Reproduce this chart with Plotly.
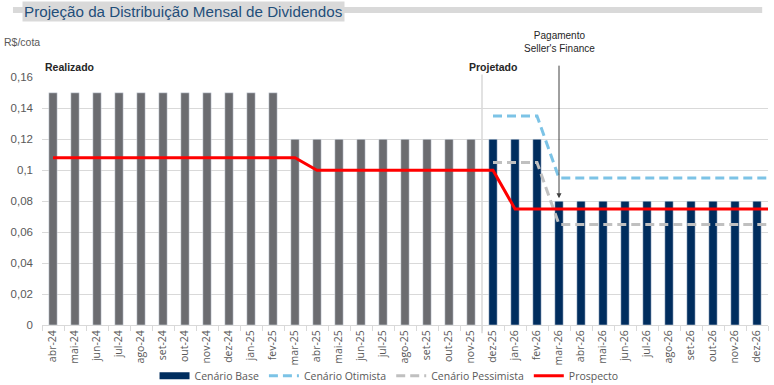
import plotly.graph_objects as go

months = ["abr-24", "mai-24", "jun-24", "jul-24", "ago-24", "set-24", "out-24", "nov-24",
          "dez-24", "jan-25", "fev-25", "mar-25", "abr-25", "mai-25", "jun-25", "jul-25",
          "ago-25", "set-25", "out-25", "nov-25", "dez-25", "jan-26", "fev-26", "mar-26",
          "abr-26", "mai-26", "jun-26", "jul-26", "ago-26", "set-26", "out-26", "nov-26", "dez-26"]

# realizado: abr-24 .. nov-25
realizado = [0.15, 0.15, 0.15, 0.15, 0.15, 0.15, 0.15, 0.15, 0.15, 0.15, 0.15,
             0.12, 0.12, 0.12, 0.12, 0.12, 0.12, 0.12, 0.12, 0.12]
# projetado: dez-25 .. dez-26
cenario_base = [0.12, 0.12, 0.12, 0.08, 0.08, 0.08, 0.08, 0.08, 0.08, 0.08, 0.08, 0.08, 0.08]
cenario_otimista = [0.135, 0.135, 0.135, 0.095, 0.095, 0.095, 0.095, 0.095, 0.095, 0.095, 0.095, 0.095, 0.095]
cenario_pessimista = [0.105, 0.105, 0.105, 0.065, 0.065, 0.065, 0.065, 0.065, 0.065, 0.065, 0.065, 0.065, 0.065]
prospecto = [0.108, 0.108, 0.108, 0.108, 0.108, 0.108, 0.108, 0.108, 0.108, 0.108, 0.108, 0.108,
             0.1, 0.1, 0.1, 0.1, 0.1, 0.1, 0.1, 0.1, 0.1,
             0.075, 0.075, 0.075, 0.075, 0.075, 0.075, 0.075, 0.075, 0.075, 0.075, 0.075, 0.075]

y_ticks = [0, 0.02, 0.04, 0.06, 0.08, 0.1, 0.12, 0.14, 0.16]
y_ticktext = ["0", "0,02", "0,04", "0,06", "0,08", "0,1", "0,12", "0,14", "0,16"]

n = len(months)
idx = list(range(n))
n_real = len(realizado)
idx_real = idx[:n_real]
idx_proj = idx[n_real:]
edge = n - 0.5  # lines run to the right edge of the plot

SANS = "Liberation Sans, Arial, sans-serif"
CAL = "Open Sans, Calibri, sans-serif"

GRAY_BAR = "#6b6c70"
NAVY = "#002d5e"
BLUE = "#7cc3e6"
LGRAY = "#c0c0c0"
RED = "#ff0000"

fig = go.Figure()

fig.add_trace(go.Bar(x=idx_real, y=realizado, marker_color=GRAY_BAR, width=0.38,
                     showlegend=False, name="Realizado"))
fig.add_trace(go.Bar(x=idx_proj, y=cenario_base, marker_color=NAVY, width=0.38,
                     showlegend=False, name="Cenário Base"))
# legend entry for the base scenario (wide rectangle as in the reference)
fig.add_trace(go.Scatter(x=[None], y=[None], mode="lines", name="Cenário Base",
                         line=dict(color=NAVY, width=7)))
fig.add_trace(go.Scatter(x=idx_proj + [edge], y=cenario_otimista + [cenario_otimista[-1]],
                         mode="lines", name="Cenário Otimista",
                         line=dict(color=BLUE, width=3, dash="9px,5px")))
fig.add_trace(go.Scatter(x=idx_proj + [edge], y=cenario_pessimista + [cenario_pessimista[-1]],
                         mode="lines", name="Cenário Pessimista",
                         line=dict(color=LGRAY, width=3, dash="9px,5px")))
fig.add_trace(go.Scatter(x=idx + [edge], y=prospecto + [prospecto[-1]],
                         mode="lines", name="Prospecto",
                         line=dict(color=RED, width=3)))

# separator between realized and projected
fig.add_shape(type="line", xref="x", yref="paper", x0=n_real - 0.5, x1=n_real - 0.5,
              y0=-0.033, y1=1.01, line=dict(color="#d9d9d9", width=1.5), layer="below")
# title underline bar
fig.add_shape(type="line", xref="paper", yref="paper", x0=-0.04, x1=0.992, y0=1.27, y1=1.27,
              line=dict(color="#d9d9d9", width=6))

fig.add_annotation(xref="paper", yref="paper", x=-0.027, y=1.266, xanchor="left", yanchor="middle",
                   text="Projeção da Distribuição Mensal de Dividendos", showarrow=False,
                   bgcolor="#d9d9d9", borderpad=1,
                   font=dict(family=SANS, size=15.2, color="#1f4e79"))
fig.add_annotation(xref="paper", yref="paper", x=-0.0547, y=1.14, xanchor="left", yanchor="middle",
                   text="R$/cota", showarrow=False, font=dict(family=SANS, size=10.5, color="#595959"))
fig.add_annotation(xref="paper", yref="paper", x=0.0015, y=1.039, xanchor="left", yanchor="middle",
                   text="<b>Realizado</b>", showarrow=False, font=dict(family=SANS, size=10.5, color="#262626"))
fig.add_annotation(xref="x", yref="paper", x=n_real, y=1.039, xanchor="center", yanchor="middle",
                   text="<b>Projetado</b>", showarrow=False, font=dict(family=SANS, size=10.5, color="#262626"))
fig.add_annotation(xref="x", yref="paper", x=n_real + 3, y=1.142, xanchor="center", yanchor="middle",
                   text="Pagamento<br>Seller's Finance", showarrow=False,
                   font=dict(family=SANS, size=10, color="#262626"))
fig.add_annotation(xref="x", yref="y", x=n_real + 3, y=cenario_base[3], text="", showarrow=True,
                   axref="pixel", ayref="pixel", ax=0, ay=-137, arrowhead=2, arrowsize=1,
                   arrowwidth=1, arrowcolor="#404040", standoff=3)

fig.update_layout(
    width=774, height=385,
    margin=dict(l=42, r=6, t=77, b=60, autoexpand=False),
    paper_bgcolor="white", plot_bgcolor="white",
    barmode="overlay",
    showlegend=True,
    legend=dict(orientation="h", x=0.478, xanchor="center", y=-0.205, yanchor="middle",
                font=dict(family=CAL, size=10.5, color="#595959"), itemwidth=30,
                tracegroupgap=0, bgcolor="rgba(0,0,0,0)"),
    xaxis=dict(range=[-0.5, n - 0.5], tickvals=idx, ticktext=months, tickangle=-90,
               showgrid=False, zeroline=False, showline=True, linecolor="#d9d9d9", linewidth=1,
               ticks="", automargin=False, tickfont=dict(family=CAL, size=10.5, color="#595959"),
               minor=dict(ticks="outside", tick0=-0.5, dtick=1, ticklen=5, tickcolor="#d9d9d9",
                          showgrid=False)),
    yaxis=dict(range=[0, 0.1602], tickvals=y_ticks, ticktext=y_ticktext, showgrid=True,
               gridcolor="#d9d9d9", gridwidth=1, zeroline=False, showline=False, ticks="",
               automargin=False,
               ticklabelstandoff=8, tickfont=dict(family=SANS, size=11.5, color="#595959")),
)

fig.write_html("out.html", config={"displayModeBar": False},
               post_script="document.body.style.margin='0';")
